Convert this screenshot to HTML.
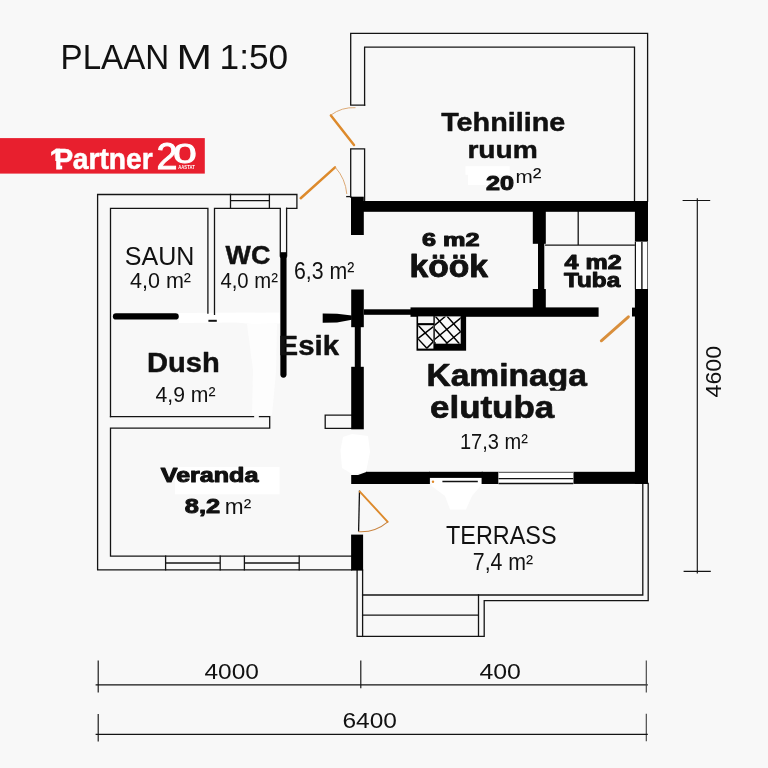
<!DOCTYPE html>
<html lang="et">
<head>
<meta charset="utf-8">
<title>PLAAN M 1:50</title>
<style>
  html, body { margin: 0; padding: 0; background: #f8f8f8; }
  body { width: 768px; height: 768px; overflow: hidden; }
  svg { display: block; }
  text { font-family: "Liberation Sans", sans-serif; fill: #111; }
  .b { font-weight: bold; }
  .s1 { stroke: #111; stroke-width: 0.45; stroke-linejoin: round; }
  .s2 { stroke: #111; stroke-width: 1; stroke-linejoin: round; }
  .thin { fill: none; stroke: #141414; stroke-width: 1.3; stroke-linecap: square; }
  .wall { fill: #000; stroke: none; }
  .door { fill: none; stroke: #dd8a2c; stroke-width: 2; stroke-linecap: round; }
  .arc { fill: none; stroke: #d9a066; stroke-width: 0.9; }
  .dim { fill: none; stroke: #141414; stroke-width: 1.15; }
</style>
</head>
<body>
<svg width="768" height="768" viewBox="0 0 768 768">
  <defs>
    <clipPath id="kam"><rect x="420" y="355" width="180" height="35.8"/></clipPath>
    <clipPath id="fpR"><rect x="434.8" y="316.4" width="25.9" height="27.3"/></clipPath>
    <clipPath id="fpL"><rect x="418.1" y="325.2" width="15.3" height="23.4"/></clipPath>
  </defs>
  <rect x="0" y="0" width="768" height="768" fill="#f8f8f8"/>

  <!-- white erased patches -->
  <g id="patches" fill="#ffffff">
    <path d="M178.5 313 L279.5 312.5 L280 323.5 L252 324 L236 322.5 L179 323 Z"/>
    <path d="M247 324 L277 324 L276 372 L272 415 L252 415 L253 370 Z" fill="#fdfdfd"/>
    <path d="M465.5 166.3 L509.7 166.3 L509.7 174.7 L488 174.7 L488 185 L468 185 L468 174.7 L465.5 174.7 Z"/>
    <rect x="175" y="467" width="104.5" height="27.3"/>
    <path d="M343 437 L352 434 L368 436 L370 452 L366 472 L352 474 L342 468 L340.5 450 Z"/>
    <path d="M431.5 478 L481.5 478 L481.5 485 L472 496 L466 509.5 L450 509.5 L445 496 L431.5 486 Z"/>
  </g>

  <!-- title -->
  <text id="title" style="filter:grayscale(1)" y="69.4" font-size="34.2"><tspan x="60.6" textLength="108.6" lengthAdjust="spacingAndGlyphs">PLAAN</tspan> <tspan x="176.6" textLength="35.5" lengthAdjust="spacingAndGlyphs">M</tspan> <tspan x="219.6" textLength="68.6" lengthAdjust="spacingAndGlyphs">1:50</tspan></text>

  <!-- logo -->
  <g id="logo">
    <rect x="0" y="138.1" width="204.8" height="35.5" fill="#e81f2e"/>
    <g style="filter:grayscale(1)">
    <text class="b" y="169.2" font-size="29.6" style="fill:#fff;stroke:#fff;stroke-width:0.5"><tspan x="49.6" textLength="15.4" lengthAdjust="spacingAndGlyphs">1</tspan><tspan x="54" textLength="19.2" lengthAdjust="spacingAndGlyphs">P</tspan><tspan x="72.8" textLength="80" lengthAdjust="spacingAndGlyphs">artner</tspan></text>
    <text y="168.6" style="fill:#fff;stroke:#fff;stroke-width:0.9"><tspan x="156.4" font-size="37" textLength="21" lengthAdjust="spacingAndGlyphs">2</tspan><tspan x="173.2" dy="-5.2" font-size="28.2" textLength="23.4" lengthAdjust="spacingAndGlyphs">0</tspan></text>
    <text class="b" x="178.3" y="169" font-size="4.8" style="fill:#fff" textLength="16.4" lengthAdjust="spacingAndGlyphs">AASTAT</text>
    </g>
    <!-- hide the foot of the digit so it reads as the logo's plain stem -->
    <rect x="47" y="161" width="9.2" height="11" fill="#e81f2e"/>
    <rect x="62.2" y="164.5" width="5.5" height="7" fill="#e81f2e"/>
  </g>

  </g>




  <!-- left building thin lines -->
  <g id="left" class="thin">
    <!-- outer -->
    <path d="M351.5 569.8 L97.6 569.8 L97.6 194.5 L296.9 194.5 L296.9 208.3 L286.6 208.3"/>
    <!-- inner top -->
    <path d="M110.5 416.6 L110.5 208.3 L207.9 208.3 L207.9 313"/>
    <path d="M214.5 314.4 L214.5 208.3 L280.3 208.3 L280.3 256"/>
    <path d="M286.6 208.3 L286.6 256"/>
    <!-- top window -->
    <path d="M230.5 194.5 L230.5 208.3 M269.4 194.5 L269.4 208.3 M230.5 200.6 L269.4 200.6"/>
    <!-- dush bottom wall -->
    <path d="M110.5 416.6 L253.5 416.6"/>
    <path d="M259.5 416.6 L269.7 416.6 L269.7 428.2 L110.5 428.2 L110.5 556.2 L351.5 556.2"/>
    <!-- small hollow rect by wall -->
    <path d="M351.5 415.2 L325.2 415.2 L325.2 428.4 L351.5 428.4"/>
    <!-- veranda windows -->
    <path d="M165.6 556.2 L165.6 569.8 M220.2 556.2 L220.2 569.8 M165.6 563 L220.2 563"/>
    <path d="M244.4 556.2 L244.4 569.8 M299.2 556.2 L299.2 569.8 M244.4 563 L299.2 563"/>
    <!-- small dash -->
    <path d="M209.4 320.8 L215.8 320.8" style="stroke-width:2"/>
  </g>

  <g id="leftthick" fill="none" stroke="#000" stroke-linecap="round">
    <path d="M116 316.4 L175.6 316.4" stroke-width="6.3"/>
    <path d="M283.45 256 L283.45 374.6" stroke-width="6.2"/>
    <path d="M283.45 252.2 L283.45 258" stroke-width="6.2" stroke-linecap="butt"/>
  </g>

  <!-- tech room -->
  <g id="tech" class="thin">
    <path d="M364.6 105.2 L350.7 105.2 L350.7 33.3 L647.6 33.3 L647.6 201"/>
    <path d="M364.6 105.2 L364.6 47.2 L634.5 47.2 L634.5 201"/>
    <path d="M350.7 197 L350.7 148.9 L364.6 148.9 L364.6 202"/>
    <path d="M346.8 196.6 L350.7 196.6"/>
    <!-- tuba closet lines -->
    <path d="M545.7 245.2 L634.8 245.2 M578.2 211.5 L578.2 245.2"/>
  </g>


  <!-- terrace -->
  <g id="terrace" class="thin">
    <path d="M642.8 483.5 L642.8 595 L362.6 595"/>
    <path d="M648.2 483.5 L648.2 600.6 L484.2 600.6 L484.2 636.4 L357.1 636.4 L357.1 570"/>
    <path d="M362.6 570 L362.6 636.4"/>
    <path d="M362.6 615.1 L478.5 615.1 M478.5 595 L478.5 636.4"/>
  </g>


  <!-- thick walls -->
  <g id="walls" class="wall">
    <!-- left vertical wall -->
    <rect x="351" y="196.7" width="12.8" height="38.3"/>
    <rect x="351.2" y="289.5" width="12.6" height="37.7"/>
    <rect x="354.8" y="327" width="6" height="40"/>
    <rect x="351.2" y="366.8" width="12.6" height="62.5"/>
    <rect x="351.1" y="534.6" width="12" height="36"/>
    <!-- top horizontal -->
    <rect x="351" y="201" width="297" height="10.8"/>
    <!-- right vertical -->
    <rect x="634.9" y="201" width="13.1" height="40.8"/>
    <rect x="634.9" y="289" width="13.1" height="194.8"/>
    <!-- bottom horizontal -->
    <polygon points="351.2,475 358,475 367,471.8 367,484 351.2,484"/>
    <rect x="366" y="471.8" width="63.9" height="12.2"/>
    <rect x="429" y="471.8" width="54" height="6.1"/>
    <rect x="481.6" y="471.8" width="17" height="12.2"/>
    <rect x="573.3" y="471.8" width="74.7" height="12.1"/>
    <!-- kitchen bottom wall -->
    <rect x="364" y="309.3" width="47" height="5.5"/>
    <rect x="410.5" y="307.4" width="188.1" height="9.4"/>
    <polygon points="322.7,313.4 337,313.8 351.8,315.6 351.8,319.8 337,322.5 322.7,322.8"/>
    <!-- kitchen / tuba wall -->
    <rect x="532.8" y="211" width="13" height="32.8"/>
    <rect x="538" y="243" width="6.3" height="47"/>
    <rect x="532.8" y="289" width="13" height="19"/>
    <rect x="632" y="307.6" width="3.5" height="8.9"/>
    <!-- fireplace -->
    <rect x="416.5" y="316" width="49.6" height="34.7"/>
    <rect x="418.1" y="316.4" width="15.3" height="6.7" fill="#f8f8f8"/>
    <rect x="418.1" y="325.2" width="15.3" height="23.4" fill="#f8f8f8"/>
    <rect x="434.8" y="316.4" width="25.9" height="27.3" fill="#f8f8f8"/>
    <g fill="none" stroke="#000" stroke-width="1.45" clip-path="url(#fpR)">
      <path d="M423.5 316.3 L447.6 343.8 M435.3 316.3 L459.4 343.8 M447.1 316.3 L471.2 343.8 M411.7 316.3 L435.8 343.8"/>
      <path d="M445.5 316.3 L412 343.8 M462.7 316.3 L429.2 343.8 M479.4 316.3 L445.9 343.8"/>
    </g>
    <g fill="none" stroke="#000" stroke-width="1.45" clip-path="url(#fpL)">
      <path d="M418.1 325.2 L433.4 341.8 M418.1 338.9 L427.4 348.8"/>
      <path d="M418.1 338.3 L433.4 326.6 M426.3 348.8 L433.6 341.3"/>
    </g>
  </g>
  <!-- windows in thick walls -->
  <g id="wins" fill="none" stroke="#111">
    <rect x="498.5" y="471.8" width="74.8" height="12.2" fill="#ffffff" stroke="none"/>
    <path d="M498.5 472.3 L573.3 472.3" stroke-width="1" stroke="#444"/>
    <path d="M498.5 483.5 L573.3 483.5" stroke-width="1.3"/>
    <path d="M498.5 478.6 L573.3 478.6" stroke-width="1.4"/>
    <rect x="634.9" y="241.8" width="13.1" height="47.2" fill="#ffffff" stroke="none"/>
    <path d="M635.4 241.8 L635.4 289" stroke-width="1.2"/>
    <path d="M641.9 241.8 L641.9 289" stroke-width="1.4"/>
    <path d="M647.5 241.8 L647.5 289" stroke-width="1" stroke="#666"/>
    <!-- terrace door thin line -->
    <path d="M442.4 481.5 L477.8 481.5" stroke-width="1.5"/>
  </g>

  <!-- doors -->
  <g id="doors">
    <!-- tech room door -->
    <path class="door" style="stroke-width:2.5" d="M354 145 L330.9 115.4"/>
    <path class="arc" d="M330.7 115.2 A38 38 0 0 1 355.5 107.7"/>
    <!-- entry door -->
    <path class="door" style="stroke-width:2.5" d="M300.7 198.2 L335 167.4"/>
    <path class="arc" d="M335.2 167.2 A46 46 0 0 1 346.8 194"/>
    <!-- living room side door -->
    <path d="M359.5 490.6 L358.6 531.6" fill="none" stroke="#111" stroke-width="1.3"/>
    <path class="door" style="stroke-width:1.9" d="M359.8 491.6 L387.7 521.8"/>
    <path class="arc" style="stroke:#c98440;stroke-width:1.1" d="M387.8 521.9 A41.5 41.5 0 0 1 358.6 531.7"/>
    <!-- tuba door -->
    <path class="door" style="stroke:#d98f3c;stroke-width:2.9" d="M628.4 316.8 L601.3 340.8"/>
    <circle cx="433" cy="481.7" r="1.2" fill="#e08a2a"/>
  </g>


  <!-- labels -->
  <g id="labels" style="filter:grayscale(1)">
    <text x="124.8" y="264.6" font-size="25" textLength="69.6" lengthAdjust="spacingAndGlyphs">SAUN</text>
    <text x="130" y="288" font-size="21.6" textLength="61" lengthAdjust="spacingAndGlyphs">4,0 m²</text>
    <text class="b s1" x="225.5" y="264.4" font-size="25" textLength="44.8" lengthAdjust="spacingAndGlyphs">WC</text>
    <text x="220.4" y="288" font-size="21.6" textLength="57.5" lengthAdjust="spacingAndGlyphs">4,0 m²</text>
    <text x="294" y="278.8" font-size="23.4" textLength="60.4" lengthAdjust="spacingAndGlyphs">6,3 m²</text>
    <text class="b s1" x="278.6" y="355.4" font-size="27" textLength="60.5" lengthAdjust="spacingAndGlyphs">Esik</text>
    <text class="b s1" x="147" y="372.2" font-size="27.6" textLength="72.8" lengthAdjust="spacingAndGlyphs">Dush</text>
    <text x="155.5" y="402.1" font-size="21.6" textLength="60" lengthAdjust="spacingAndGlyphs">4,9 m²</text>
    <text class="b s2" x="160.8" y="481.9" font-size="19.8" textLength="97.6" lengthAdjust="spacingAndGlyphs">Veranda</text>
    <text class="b s2" x="184.8" y="513.2" font-size="21" textLength="35.4" lengthAdjust="spacingAndGlyphs">8,2</text>
    <text x="224.8" y="513.6" font-size="21.8" textLength="26.4" lengthAdjust="spacingAndGlyphs">m²</text>
    <text class="b s1" x="441.2" y="130.6" font-size="25" textLength="124" lengthAdjust="spacingAndGlyphs">Tehniline</text>
    <text class="b s1" x="467.4" y="157.9" font-size="23.6" textLength="70.4" lengthAdjust="spacingAndGlyphs">ruum</text>
    <text class="b s2" x="486" y="190.4" font-size="19.8" textLength="28" lengthAdjust="spacingAndGlyphs">20</text>
    <text x="515.6" y="182.5" font-size="19" textLength="26" lengthAdjust="spacingAndGlyphs">m<tspan font-size="24" dy="2">²</tspan></text>
    <text class="b s2" x="422" y="246.3" font-size="18.4" textLength="57.6" lengthAdjust="spacingAndGlyphs">6 m2</text>
    <text class="b s2" style="stroke-width:0.9" x="409.6" y="277" font-size="31.4" textLength="78.4" lengthAdjust="spacingAndGlyphs">köök</text>
    <text class="b s2" x="564.6" y="268.8" font-size="19.4" textLength="57" lengthAdjust="spacingAndGlyphs">4 m2</text>
    <text class="b s2" x="564" y="286.9" font-size="20.2" textLength="56.2" lengthAdjust="spacingAndGlyphs">Tuba</text>
    <text class="b s1" style="stroke-width:0.7" clip-path="url(#kam)" x="426.4" y="385.9" font-size="32" textLength="160.6" lengthAdjust="spacingAndGlyphs">Kaminaga</text>
    <text class="b s1" style="stroke-width:0.7" x="430" y="418.4" font-size="31.6" textLength="124.2" lengthAdjust="spacingAndGlyphs">elutuba</text>
    <text x="459.9" y="448.9" font-size="22" textLength="68" lengthAdjust="spacingAndGlyphs">17,3 m²</text>
    <text x="446" y="543.8" font-size="25" textLength="110.6" lengthAdjust="spacingAndGlyphs">TERRASS</text>
    <text x="472.8" y="569.8" font-size="23" textLength="60.4" lengthAdjust="spacingAndGlyphs">7,4 m²</text>
  </g>

  <!-- dimensions -->
  <g id="dims" style="filter:grayscale(1)">
    <path class="dim" d="M95.6 684.8 L647.8 684.8 M98.2 660.4 L98.2 692.6 M360.8 660.4 L360.8 688.2"/>
    <path class="dim" style="stroke:#444" d="M646.3 660.4 L646.3 692.6 M646.3 713.8 L646.3 741.2"/>
    <path class="dim" d="M95.6 734.4 L647.8 734.4 M98.2 714 L98.2 741.6"/>
    <path class="dim" d="M697.3 198.3 L697.3 573.4 M682.6 200.5 L710.2 200.5 M683.6 571.3 L710.8 571.3"/>
    <text x="204.4" y="679" font-size="22.4" textLength="54.5" lengthAdjust="spacingAndGlyphs">4000</text>
    <text x="479.4" y="679" font-size="22.4" textLength="41.5" lengthAdjust="spacingAndGlyphs">400</text>
    <text x="342.5" y="727.6" font-size="22.4" textLength="54.5" lengthAdjust="spacingAndGlyphs">6400</text>
    <text transform="translate(720.8 397.4) rotate(-90)" x="0" y="0" font-size="21.8" textLength="51.5" lengthAdjust="spacingAndGlyphs">4600</text>
  </g>
</svg>
</body>
</html>
